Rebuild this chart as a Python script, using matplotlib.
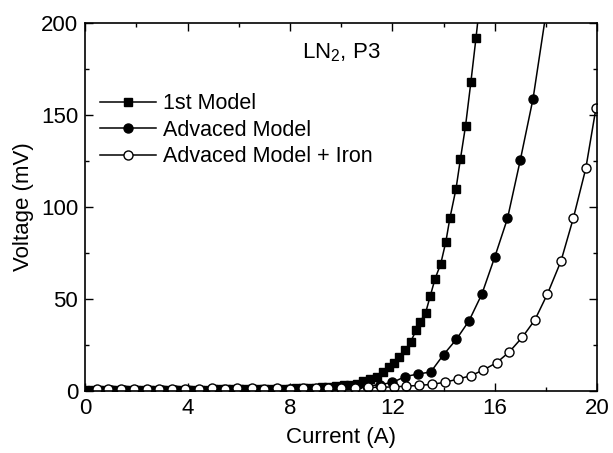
import matplotlib
matplotlib.use("Agg")
import matplotlib.pyplot as plt
from matplotlib.ticker import MultipleLocator

plt.rcParams['font.family'] = ['Liberation Sans', 'DejaVu Sans']
plt.rcParams['mathtext.fontset'] = 'custom'
plt.rcParams['mathtext.rm'] = 'Liberation Sans'
plt.rcParams['mathtext.it'] = 'Liberation Sans'

# 1st Model (squares)
sq_x = [0.0, 0.25, 0.5, 0.75, 1.0, 1.25, 1.5, 1.75, 2.0, 2.25, 2.5, 2.75,
        3.0, 3.25, 3.5, 3.75, 4.0, 4.25, 4.5, 4.75, 5.0, 5.25, 5.5, 5.75,
        6.0, 6.25, 6.5, 6.75, 7.0, 7.25, 7.5, 7.75, 8.0, 8.25, 8.5, 8.75,
        9.0, 9.25, 9.5, 9.8, 10.1, 10.35, 10.61, 10.87, 11.13,
        11.39, 11.65, 11.88, 12.07, 12.28, 12.51, 12.72, 12.93, 13.08, 13.3,
        13.48, 13.67, 13.89, 14.09, 14.25, 14.49, 14.66, 14.86, 15.07, 15.27,
        15.45]
sq_y = [0.3, 0.3, 0.3, 0.3, 0.4, 0.4, 0.4, 0.4, 0.5, 0.5, 0.5, 0.5,
        0.6, 0.6, 0.6, 0.6, 0.7, 0.7, 0.7, 0.7, 0.8, 0.8, 0.8, 0.8,
        0.9, 0.9, 1.0, 1.0, 1.1, 1.1, 1.2, 1.2, 1.3, 1.4, 1.5, 1.6,
        1.8, 2.0, 2.2, 2.6, 3.0, 3.4, 3.9, 5.2, 6.4,
        7.8, 10.3, 12.9, 15.0, 18.3, 22.3, 26.8, 33.0, 37.5, 42.5,
        51.5, 61.0, 69.0, 81.0, 94.0, 110.0, 126.0, 144.0, 168.0, 192.0,
        215.0]

# Advaced Model (filled circles)
fc_x = [0.0, 0.5, 1.0, 1.5, 2.0, 2.5, 3.0, 3.5, 4.0, 4.5, 5.0, 5.5, 6.0, 6.5,
        7.0, 7.5, 8.0, 8.5, 9.0, 9.5, 10.0, 10.5, 11.0, 11.5, 12.0, 12.5,
        13.0, 13.5, 14.0, 14.5, 15.0, 15.5, 16.0, 16.5, 17.0, 17.5, 18.0]
fc_y = [0.2, 0.2, 0.3, 0.3, 0.3, 0.4, 0.4, 0.4, 0.5, 0.5, 0.5, 0.6, 0.6, 0.7,
        0.7, 0.8, 0.9, 1.0, 1.1, 1.3, 1.6, 2.0, 2.6, 3.4, 4.6, 7.8,
        9.2, 10.3, 19.7, 28.0, 38.2, 52.7, 72.7, 93.8, 125.5, 159.0, 205.0]

# Advaced Model + Iron (open circles)
oc_x = [0.45, 0.9, 1.4, 1.9, 2.4, 2.9, 3.4, 3.9, 4.45, 4.95, 5.45, 5.95, 6.5,
        7.0, 7.5, 8.0, 8.5, 9.0, 9.5, 10.0, 10.55, 11.05, 11.55, 12.05, 12.55,
        13.05, 13.55, 14.05, 14.55, 15.07, 15.56, 16.08, 16.57, 17.08, 17.57,
        18.06, 18.59, 19.07, 19.56, 19.96]
oc_y = [0.8, 1.2, 1.2, 1.0, 0.9, 1.0, 0.9, 1.0, 1.1, 1.4, 1.2, 1.5, 1.4,
        1.3, 1.6, 1.3, 1.5, 1.7, 1.6, 1.7, 1.8, 1.9, 2.0, 2.2, 2.6,
        3.0, 3.6, 4.7, 6.4, 8.3, 11.4, 15.4, 21.2, 29.2, 38.6,
        52.7, 70.6, 93.8, 121.0, 154.0]

fig = plt.figure(figsize=(6.13, 4.53), dpi=100)
ax = fig.add_axes([0.139, 0.137, 0.835, 0.812])

ax.plot(sq_x, sq_y, color='black', linewidth=1.1, marker='s', markersize=5.5,
        markerfacecolor='black', markeredgecolor='black', label='1st Model')
ax.plot(fc_x, fc_y, color='black', linewidth=1.1, marker='o', markersize=6.5,
        markerfacecolor='black', markeredgecolor='black', label='Advaced Model')
ax.plot(oc_x, oc_y, color='black', linewidth=1.1, marker='o', markersize=6.5,
        markerfacecolor='white', markeredgecolor='black', markeredgewidth=1.0,
        label='Advaced Model + Iron')

ax.set_xlim(0, 20)
ax.set_ylim(0, 200)
ax.xaxis.set_major_locator(MultipleLocator(4))
ax.xaxis.set_minor_locator(MultipleLocator(2))
ax.yaxis.set_major_locator(MultipleLocator(50))
ax.yaxis.set_minor_locator(MultipleLocator(25))
ax.tick_params(which='both', direction='in', top=True, right=True,
               labelsize=16, width=1.0)
ax.tick_params(which='major', length=6, pad=5)
ax.tick_params(which='minor', length=3)
for s in ax.spines.values():
    s.set_linewidth(1.2)

ax.set_xlabel('Current (A)', fontsize=16, labelpad=6)
ax.set_ylabel('Voltage (mV)', fontsize=16, labelpad=5)

ax.text(10.0, 184, 'LN$_2$, P3', fontsize=16, ha='center', va='center')

ax.legend(loc='upper left', bbox_to_anchor=(0.0, 0.85), frameon=False,
          fontsize=15.5, handlelength=2.6, handletextpad=0.3,
          labelspacing=0.25, borderaxespad=0.3)

fig.savefig('out.png', dpi=100)
